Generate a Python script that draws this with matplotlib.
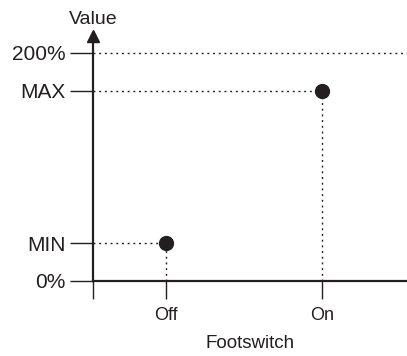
import matplotlib
matplotlib.use("Agg")
import matplotlib.pyplot as plt

# Data
categories = ["Off", "On"]
values = [33.3, 166.7]
ytick_values = [0, 33.3, 166.7, 200]
ytick_labels = ["0%", "MIN", "MAX", "200%"]
ref_line_value = 200

INK = "#231f20"
plt.rcParams['font.family'] = ['Liberation Sans', 'DejaVu Sans']

fig = plt.figure(figsize=(4.07, 3.56), dpi=100)
ax = fig.add_axes([93/407, 75/356, 1 - 93/407, (281 - 36)/356])

xs = list(range(len(categories)))
xmin, xmax = -0.468, 1.545
ymin, ymax = 0, 214.9
ax.set_xlim(xmin, xmax)
ax.set_ylim(ymin, ymax)

dash = (0, (1.4, 2.7))
# reference line at 200%
ax.plot([xmin, xmax], [ref_line_value, ref_line_value], color=INK, lw=1, linestyle=dash, clip_on=False)
for x, v in zip(xs, values):
    ax.plot([xmin, x], [v, v], color=INK, lw=1, linestyle=dash)
    ax.plot([x, x], [0, v], color=INK, lw=1, linestyle=dash)
ax.plot(xs, values, 'o', color=INK, markersize=10, zorder=5, clip_on=False)

for s in ['top', 'right']:
    ax.spines[s].set_visible(False)
for s in ['left', 'bottom']:
    ax.spines[s].set_color(INK)
    ax.spines[s].set_linewidth(1.6)

ax.set_xticks([xmin] + xs)
ax.set_xticklabels([""] + categories, fontsize=13, color=INK)
ax.tick_params(axis='x', length=13, width=1, color=INK, pad=6)
ax.set_yticks(ytick_values)
ax.set_yticklabels(ytick_labels, fontsize=15, color=INK)
ax.tick_params(axis='y', length=16.5, width=1, color=INK, pad=3)

ax.set_xlabel("Footswitch", fontsize=13.5, color=INK, labelpad=8)

# arrow head on y axis
ax.plot([0], [1], marker='^', markersize=9, color=INK, transform=ax.transAxes, clip_on=False)
ax.annotate("Value", xy=(0, 1), xycoords='axes fraction', xytext=(0, 6),
            textcoords='offset points', ha='center', va='bottom', fontsize=14, color=INK)

fig.savefig("out.png", dpi=100)
